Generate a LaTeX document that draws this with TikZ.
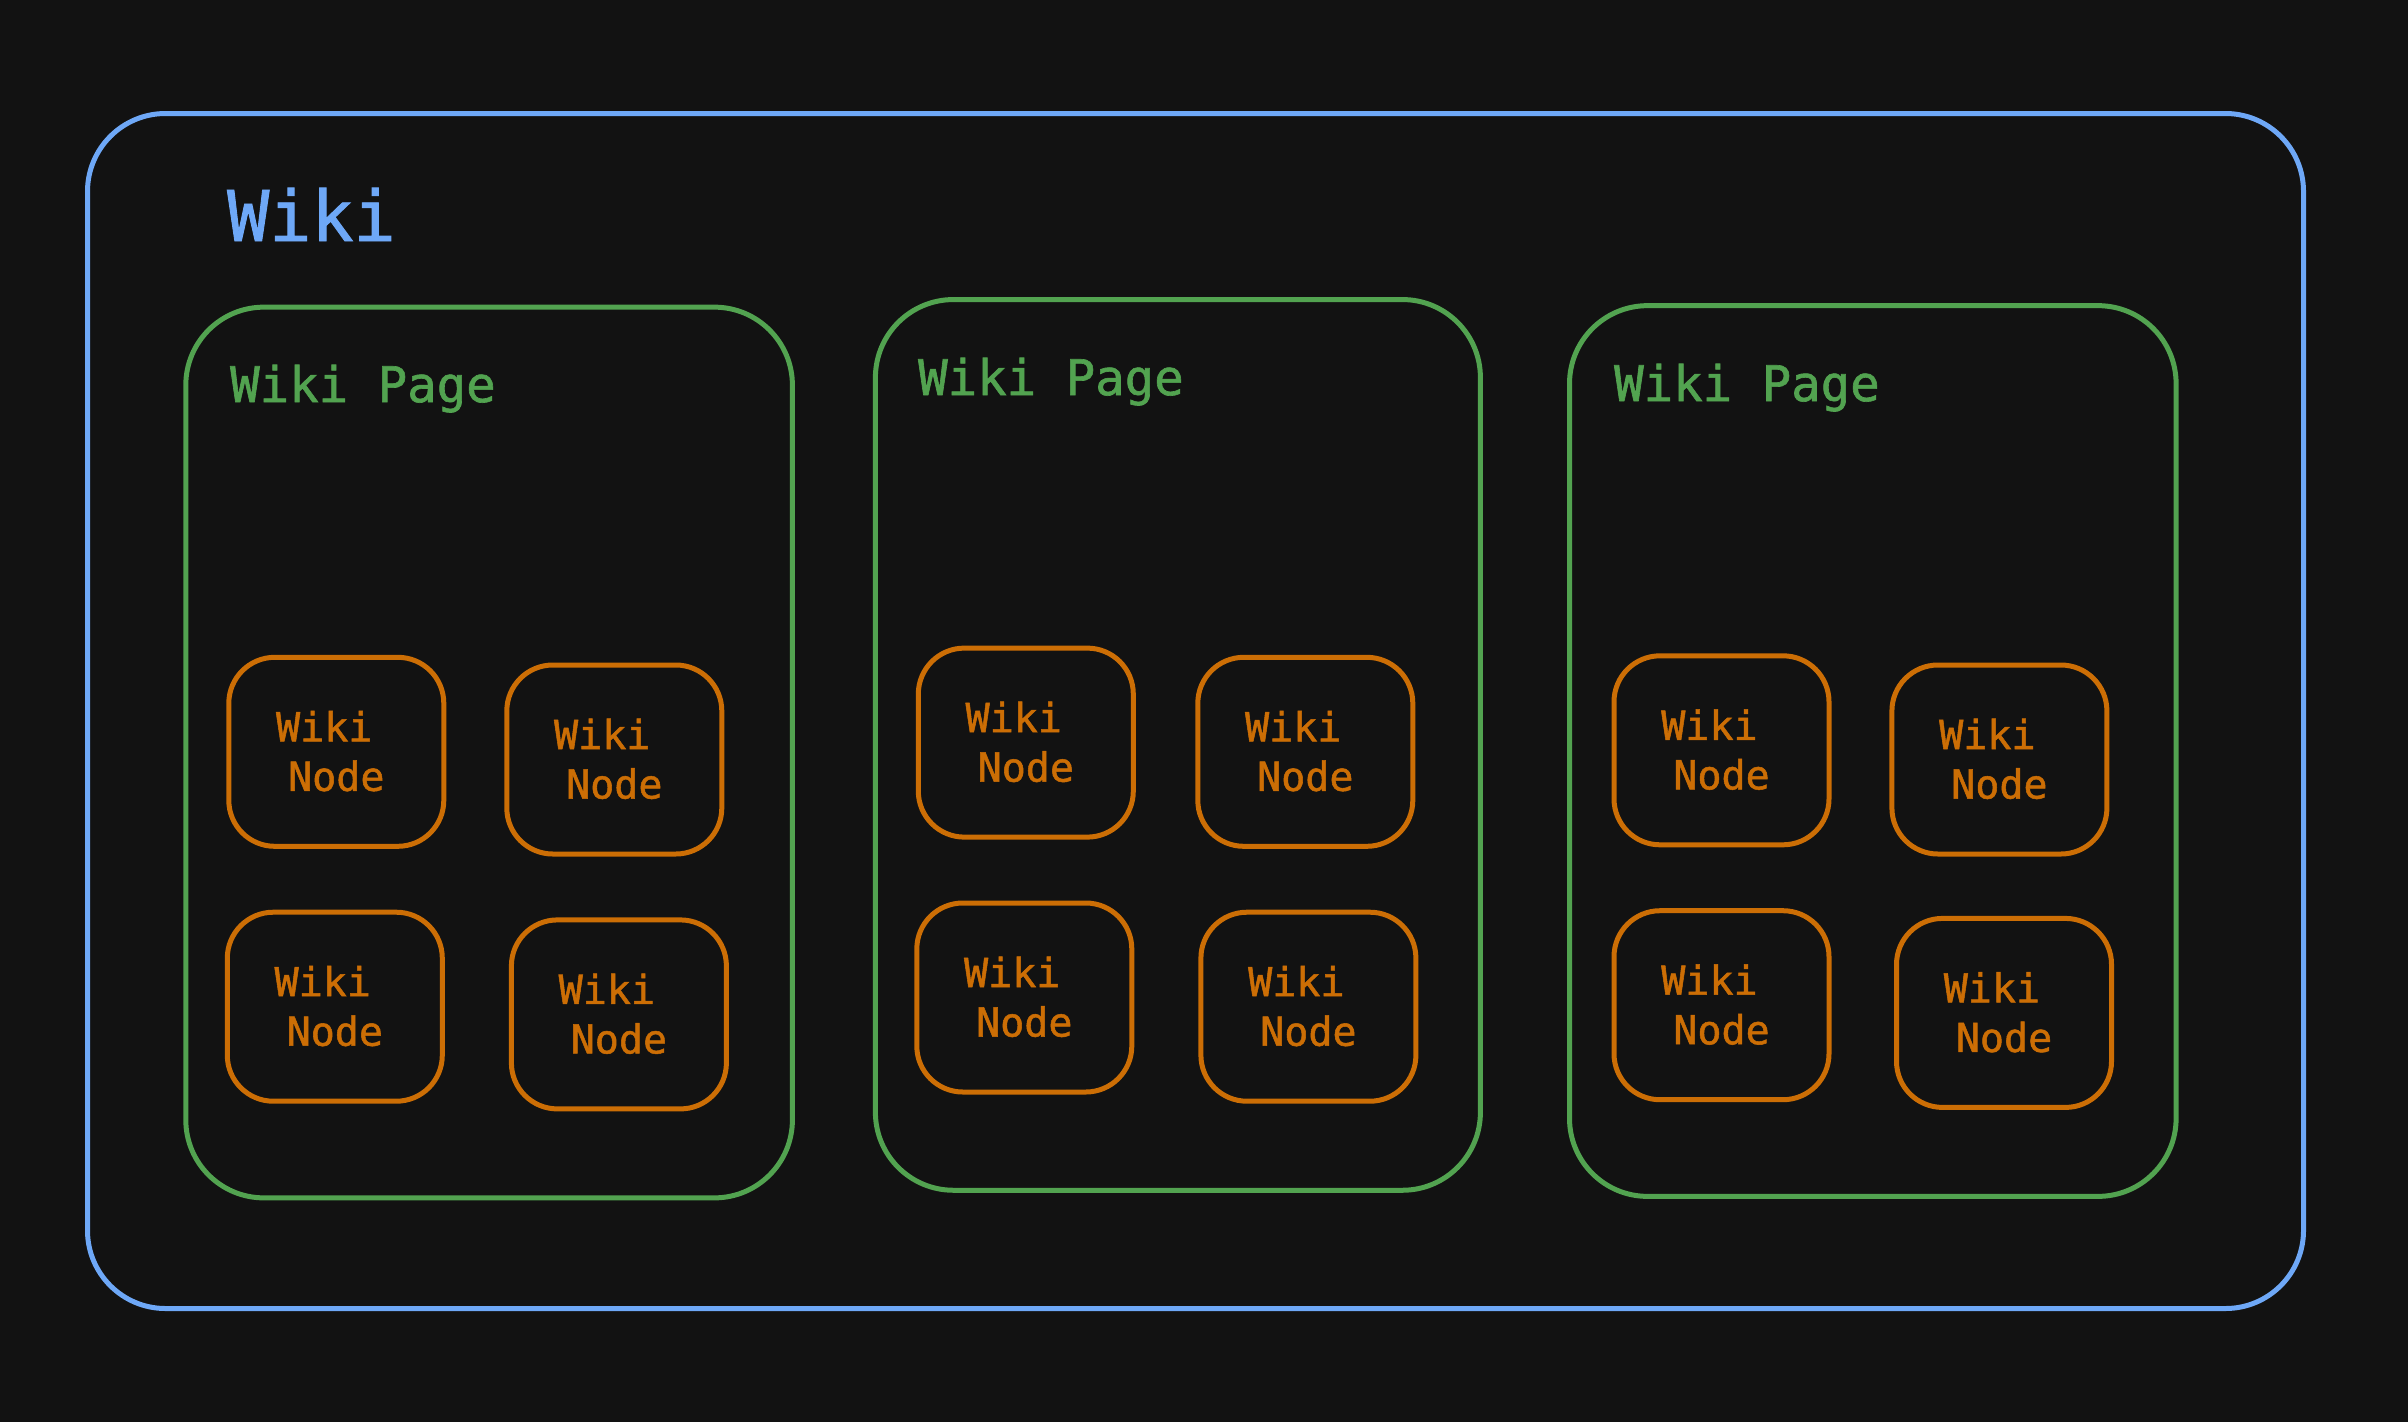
\documentclass[tikz,border=0pt]{standalone}
\usepackage{fontspec}
\setmonofont[FakeBold=1.3]{DejaVu Sans Mono}
\definecolor{bg}{HTML}{121212}
\definecolor{wblue}{HTML}{6EA8F7}
\definecolor{wgreen}{HTML}{52A350}
\definecolor{worange}{HTML}{CC6E05}
\tikzset{
  outerbox/.style={draw=wblue, line width=5pt, rounded corners=78pt, inner sep=0pt},
  pagebox/.style={draw=wgreen, line width=5pt, rounded corners=78pt, inner sep=0pt, minimum height=890.7pt},
  nodebox/.style={draw=worange, line width=5pt, rounded corners=46pt, inner sep=0pt, minimum width=215pt, minimum height=189pt},
  nodetext/.style={text=worange, font=\ttfamily\fontsize{40}{48}\selectfont, inner sep=0pt, anchor=base},
  pagetitle/.style={text=wgreen, font=\ttfamily\fontsize{49}{60}\selectfont, inner sep=0pt, anchor=base west},
  wikititle/.style={text=wblue, font=\ttfamily\fontsize{70}{86}\selectfont, inner sep=0pt, anchor=base west}
}
\newcommand\wikinode[3]{%
  \node[nodebox] (#1) at (#2,#3) {};
  \node[nodetext] (#1w) at ([yshift=10.5pt]#1.center) {Wiki\hphantom{W}};
  \node[nodetext] (#1n) at ([yshift=-39pt]#1.center) {Node};
}
\begin{document}
\begin{tikzpicture}[x=1pt,y=-1pt]
\useasboundingbox (0,0) rectangle (2408,1422);
\fill[bg] (0,0) rectangle (2408,1422);
\node[outerbox, minimum width=2216pt, minimum height=1195pt] (wiki) at (1195.5,711) {};
\node[wikititle] (wikit) at (227,241) {Wiki};
\node[pagebox, minimum width=606.6pt] (p1) at (489.1,752.5) {};
\node[pagebox, minimum width=605pt] (p2) at (1177.9,744.9) {};
\node[pagebox, minimum width=606.6pt] (p3) at (1872.8,751) {};
\node[pagetitle] (p1t) at (230,402) {Wiki Page};
\node[pagetitle] (p2t) at (918,395) {Wiki Page};
\node[pagetitle] (p3t) at (1614,401) {Wiki Page};
\wikinode{a1}{336.3}{751.8}
\wikinode{a2}{614.3}{759.5}
\wikinode{a3}{334.8}{1006.7}
\wikinode{a4}{618.9}{1014.4}
\wikinode{b1}{1025.8}{742.6}
\wikinode{b2}{1305.3}{751.8}
\wikinode{b3}{1024.3}{997.5}
\wikinode{b4}{1308.4}{1006.7}
\wikinode{c1}{1721.5}{750.3}
\wikinode{c2}{1999.4}{759.5}
\wikinode{c3}{1721.5}{1005.2}
\wikinode{c4}{2004}{1012.9}
\end{tikzpicture}
\end{document}
